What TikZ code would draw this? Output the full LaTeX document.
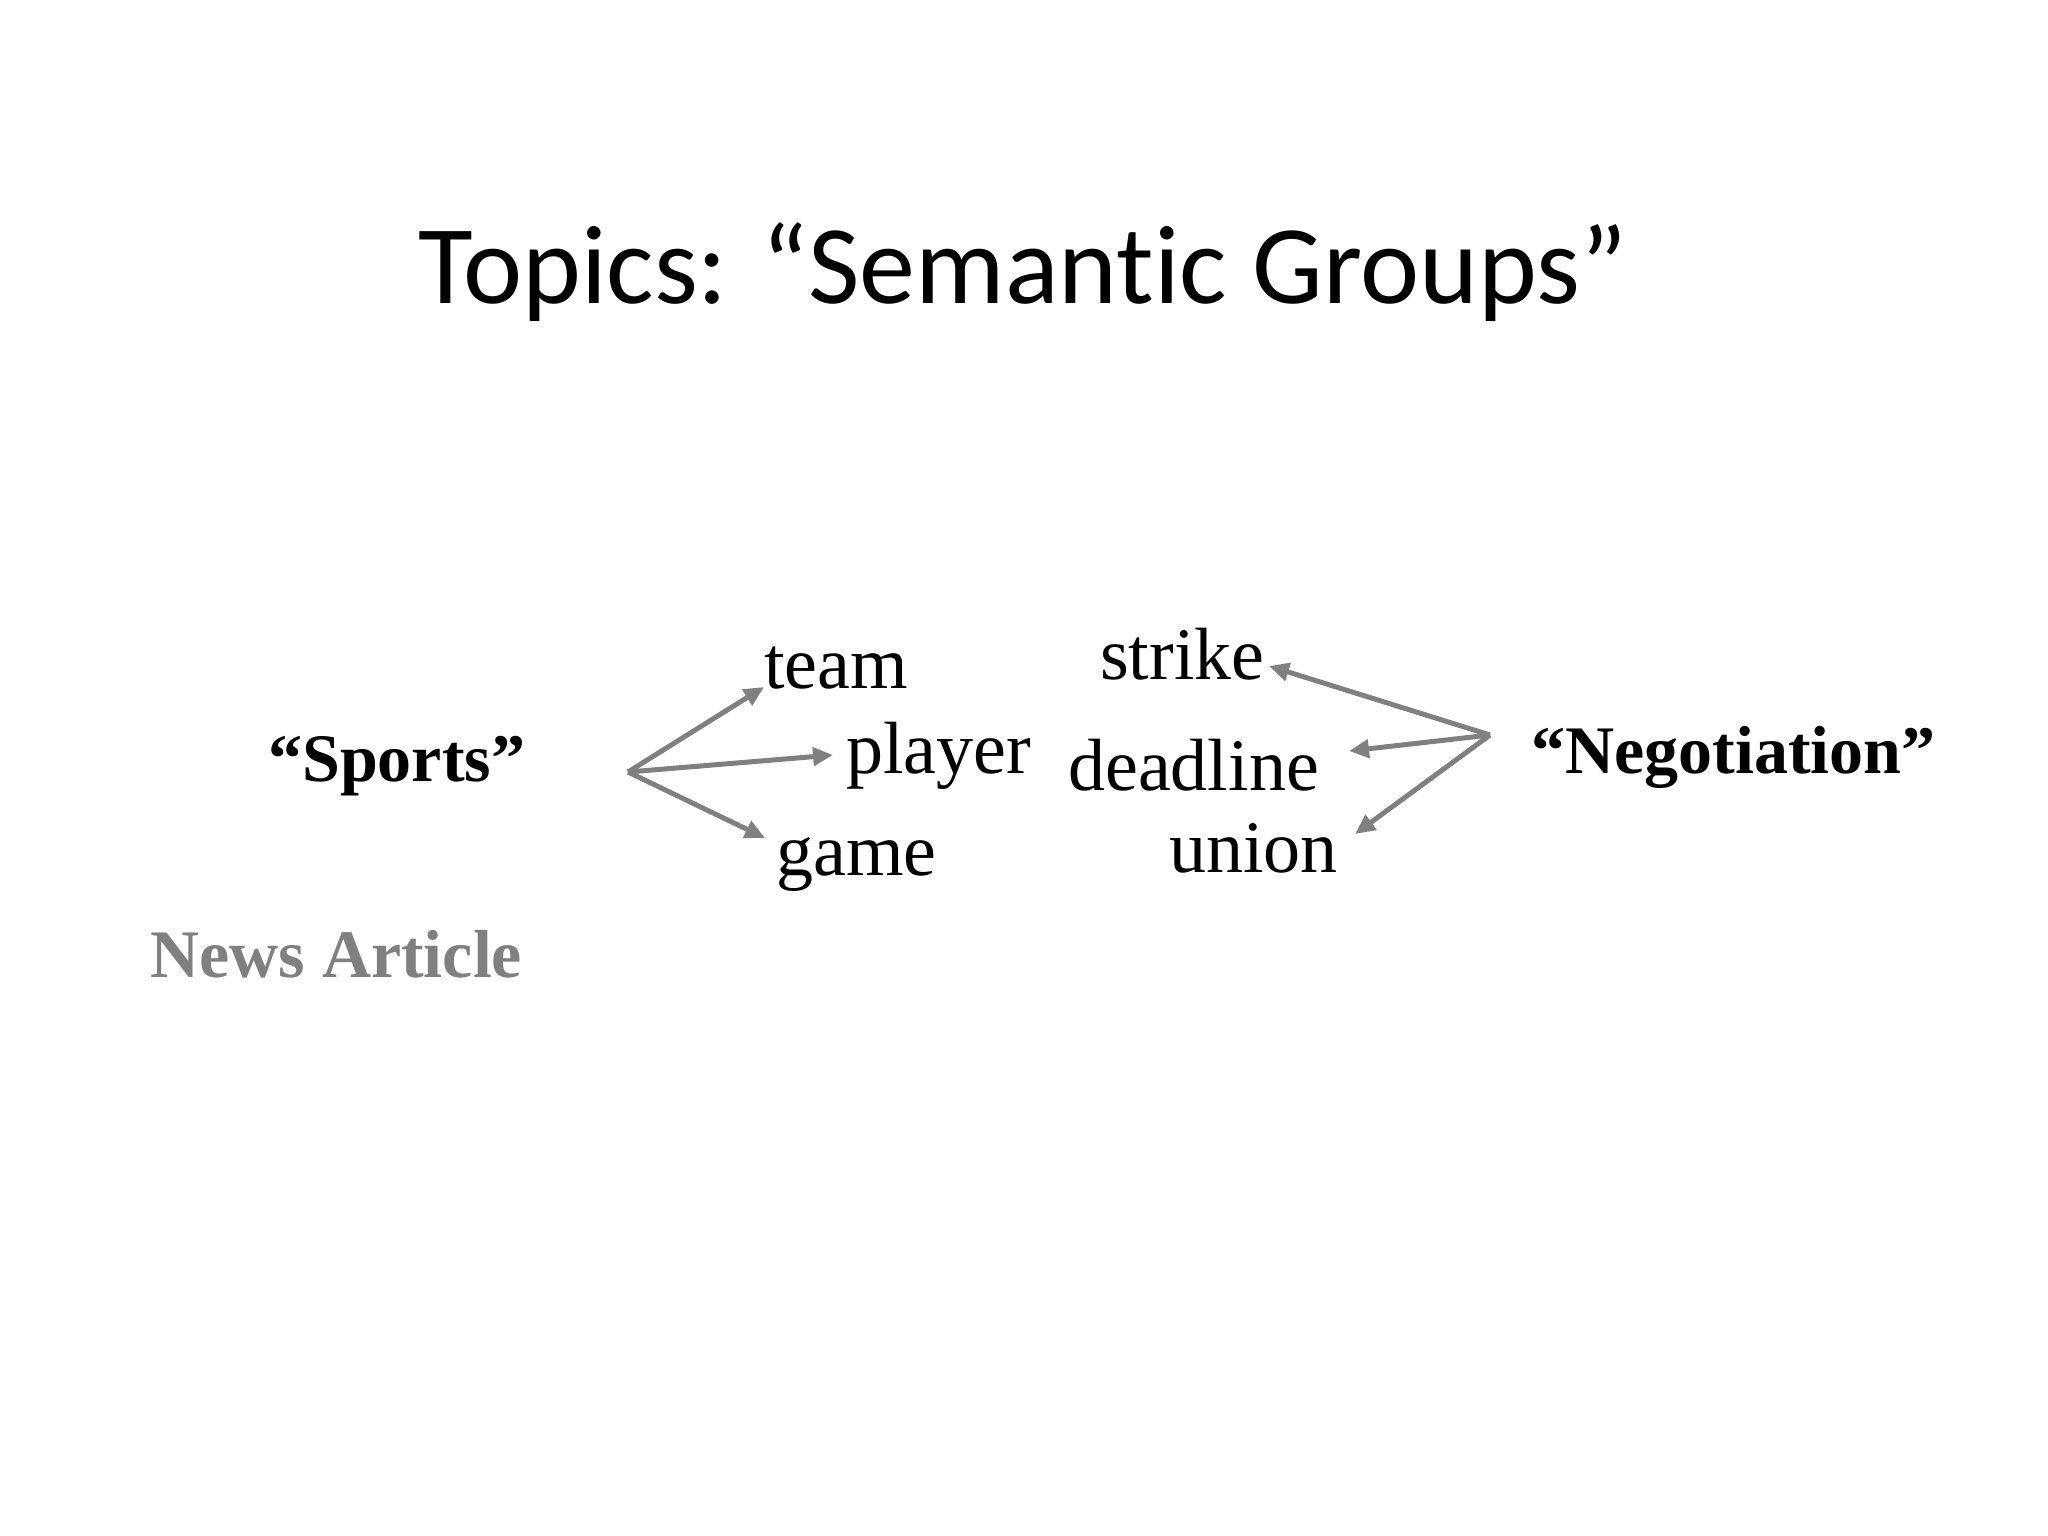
\documentclass[tikz,border=0pt]{standalone}
\usepackage{fontspec}
\setmainfont{Liberation Serif}
\newfontfamily\titlefont[Ligatures=NoCommon]{Carlito}
\usetikzlibrary{arrows.meta}
\definecolor{arrowgray}{RGB}{128,128,128}
\tikzset{
  word/.style={anchor=base west, inner sep=0pt, font=\fontsize{74}{80}\selectfont},
  label/.style={anchor=base west, inner sep=0pt, font=\fontsize{68}{74}\selectfont\bfseries},
  conn/.style={draw=arrowgray, line width=5pt, -{Triangle[length=20pt,width=18pt]}}
}
\begin{document}
\begin{tikzpicture}[x=1pt,y=-1pt]
\useasboundingbox (0,0) rectangle (2048,1536);
\node[anchor=base, inner sep=0pt, font=\titlefont\fontsize{112}{120}\selectfont] (title) at (1023,303) {Topics: “Semantic Groups”};
\node[label] (sports) at (268,781) {“Sports”};
\node[label] (nego) at (1531,773) {“Negotiation”};
\node[label, text=arrowgray] (news) at (150,977) {News Article};
\node[word] (team) at (764,688) {team};
\node[word] (player) at (846,773) {player};
\node[word] (game) at (776,875) {game};
\node[word] (strike) at (1100,679) {strike};
\node[word] (deadline) at (1068,790) {deadline};
\node[word] (union) at (1169,872) {union};
\coordinate (hubS) at (628,772);
\coordinate (hubN) at (1490,735);
\coordinate (tTeam) at (764,687);
\coordinate (tPlayer) at (833,755);
\coordinate (tGame) at (765,838);
\coordinate (tStrike) at (1269,666);
\coordinate (tDeadline) at (1349,751);
\coordinate (tUnion) at (1355,834);
\draw[conn] (hubS) -- (tTeam);
\draw[conn] (hubS) -- (tPlayer);
\draw[conn] (hubS) -- (tGame);
\draw[conn] (hubN) -- (tStrike);
\draw[conn] (hubN) -- (tDeadline);
\draw[conn] (hubN) -- (tUnion);
\end{tikzpicture}
\end{document}
